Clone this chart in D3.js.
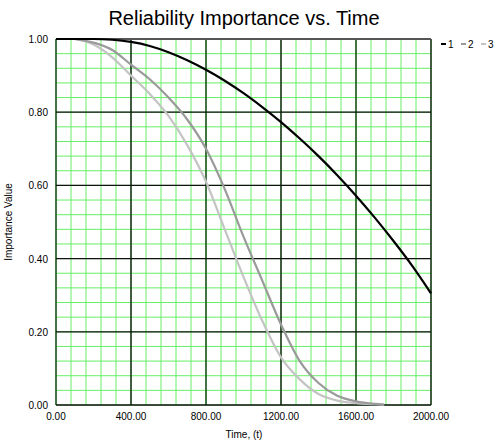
<!DOCTYPE html><html><head><script src="https://cdn.jsdelivr.net/npm/d3@7"></script>
<style>body{margin:0;background:#fff}</style></head><body><svg id="c" width="500" height="447"></svg>
<script>
const times=[0,100,200,300,400,500,600,700,800,900,1000,1100,1200,1300,1400,1500,1600,1700,1800,1900,2000];
const s1=[1,1,1,0.998,0.992,0.981,0.964,0.942,0.916,0.886,0.852,0.814,0.773,0.728,0.680,0.628,0.572,0.512,0.448,0.380,0.305];
const s2t=[100,200,300,400,500,600,700,800,900,1000,1100,1200,1300,1400,1500,1600,1700,1750];
const s2=[1,0.99,0.97,0.93,0.89,0.84,0.78,0.70,0.59,0.46,0.34,0.22,0.12,0.06,0.025,0.01,0.003,0.001];
const s3=[1,0.985,0.95,0.90,0.85,0.79,0.71,0.61,0.48,0.35,0.23,0.13,0.07,0.03,0.012,0.005,0.002,0.001];
const xTicks=[0,400,800,1200,1600,2000], yTicks=[0,0.2,0.4,0.6,0.8,1];
const svg=d3.select("#c");
const m={l:56,r:431,t:39,b:405};
const x=d3.scaleLinear().domain([0,2000]).range([m.l,m.r]);
const y=d3.scaleLinear().domain([0,1]).range([m.b,m.t]);
const g=svg.append("g");
g.selectAll(".mx").data(d3.range(0,2001,80)).enter().append("line").attr("x1",d=>x(d)).attr("x2",d=>x(d)).attr("y1",m.t).attr("y2",m.b).attr("stroke","#66ee66").attr("stroke-width",1);
g.selectAll(".my").data(d3.range(0,25).map(i=>i*0.04)).enter().append("line").attr("y1",d=>y(d)).attr("y2",d=>y(d)).attr("x1",m.l).attr("x2",m.r).attr("stroke","#66ee66").attr("stroke-width",1);
g.selectAll(".Mx").data(xTicks).enter().append("line").attr("x1",d=>x(d)).attr("x2",d=>x(d)).attr("y1",m.t).attr("y2",m.b).attr("stroke",(d,i)=>i%2?"#1a2a1a":"#1e4a1e").attr("stroke-width",1.5);
g.selectAll(".My").data(yTicks).enter().append("line").attr("y1",d=>y(d)).attr("y2",d=>y(d)).attr("x1",m.l).attr("x2",m.r).attr("stroke","#111").attr("stroke-width",1.3);
g.append("line").attr("x1",m.l).attr("x2",m.r).attr("y1",m.t).attr("y2",m.t).attr("stroke","#555").attr("stroke-width",2);
const line=d3.line().curve(d3.curveMonotoneX);
svg.append("path").attr("d",line(s2t.map((t,i)=>[x(t),y(s3[i])]))).attr("fill","none").attr("stroke","#c4c4c4").attr("stroke-width",2.2);
svg.append("path").attr("d",line(s2t.map((t,i)=>[x(t),y(s2[i])]))).attr("fill","none").attr("stroke","#9a9a9a").attr("stroke-width",2.2);
svg.append("path").attr("d",line(times.map((t,i)=>[x(t),y(s1[i])]))).attr("fill","none").attr("stroke","#000").attr("stroke-width",2.2);
const f="Liberation Sans, Arial, sans-serif";
svg.selectAll(".xt").data(xTicks).enter().append("text").attr("x",d=>x(d)).attr("y",420).attr("text-anchor","middle").attr("font-family",f).attr("font-size",10).text(d=>d.toFixed(2));
svg.selectAll(".yt").data(yTicks).enter().append("text").attr("x",48).attr("y",d=>y(d)+4).attr("text-anchor","end").attr("font-family",f).attr("font-size",10).text(d=>d.toFixed(2));
svg.append("text").attr("x",244).attr("y",438).attr("text-anchor","middle").attr("font-family",f).attr("font-size",10).text("Time, (t)");
svg.append("text").attr("transform","translate(12,222) rotate(-90)").attr("text-anchor","middle").attr("font-family",f).attr("font-size",10).text("Importance Value");
svg.append("text").attr("x",244).attr("y",25).attr("text-anchor","middle").attr("font-family",f).attr("font-size",20).text("Reliability Importance vs. Time");
const lg=[{n:"1",c:"#000"},{n:"2",c:"#9a9a9a"},{n:"3",c:"#c4c4c4"}];
lg.forEach((d,i)=>{const x0=441+i*20;svg.append("line").attr("x1",x0).attr("x2",x0+5).attr("y1",44).attr("y2",44).attr("stroke",d.c).attr("stroke-width",2);
svg.append("text").attr("x",x0+7).attr("y",47.5).attr("font-family",f).attr("font-size",10).text(d.n);});
</script></body></html>
